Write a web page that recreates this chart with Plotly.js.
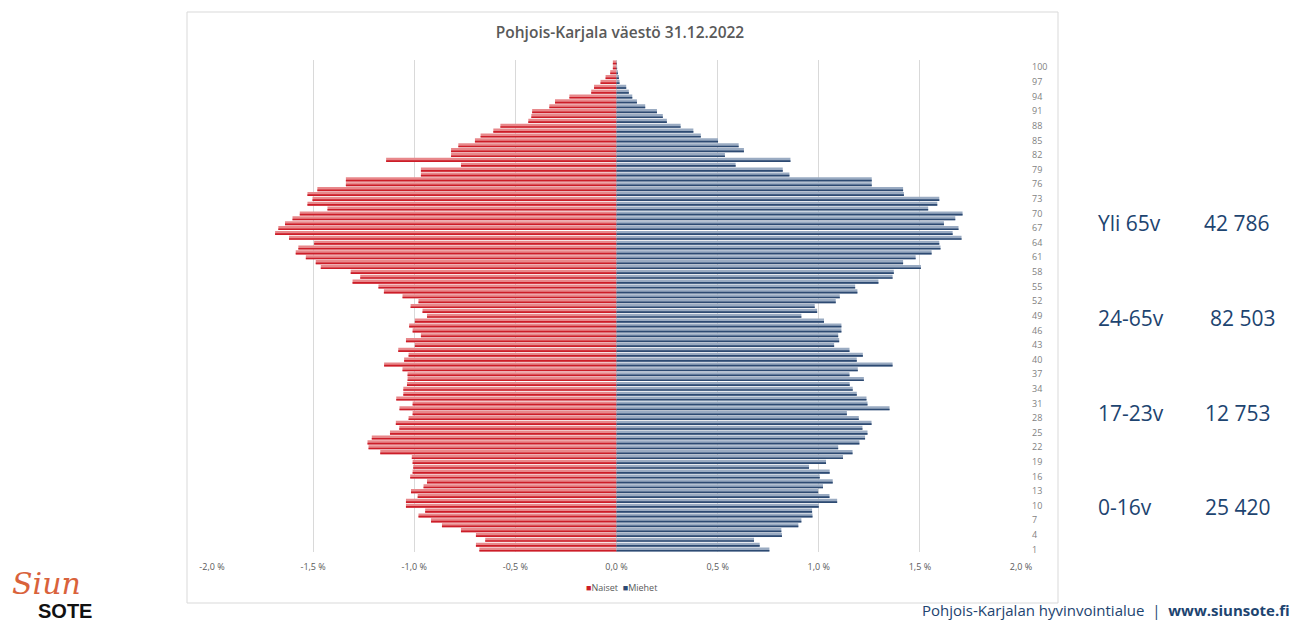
<!DOCTYPE html>
<html>
<head>
<meta charset="utf-8">
<script src="https://cdn.plot.ly/plotly-3.0.1.min.js"></script>
<style>html,body{margin:0;padding:0;background:#fff;}#chart{width:1306px;height:622px;}</style>
</head>
<body>
<div id="chart"></div>
<script>
// Ages (categories 1..101)
const ages = Array.from({length: 101}, (_, i) => i + 1);

// Naiset (women), share of population in percent, ages 1..101
const naiset = [
  0.678, 0.695, 0.649, 0.695, 0.769, 0.863, 0.917, 0.979, 0.946, 1.041,
  1.041, 0.983, 1.016, 0.954, 0.937, 1.020, 1.008, 1.005, 1.008, 1.012,
  1.168, 1.226, 1.231, 1.210, 1.120, 1.074, 1.091, 1.028, 1.008, 1.073,
  1.008, 1.089, 1.054, 1.054, 1.036, 1.033, 1.033, 1.058, 1.149, 1.050,
  1.028, 1.079, 0.997, 1.041, 0.967, 1.008, 1.025, 0.997, 0.937, 0.959,
  1.018, 0.979, 1.058, 1.150, 1.177, 1.305, 1.267, 1.314, 1.462, 1.487,
  1.536, 1.586, 1.573, 1.495, 1.619, 1.688, 1.672, 1.639, 1.602, 1.566,
  1.429, 1.528, 1.503, 1.528, 1.479, 1.338, 1.338, 0.967, 0.967, 0.769,
  1.139, 0.818, 0.818, 0.782, 0.700, 0.672, 0.609, 0.574, 0.436, 0.421,
  0.417, 0.332, 0.304, 0.233, 0.125, 0.111, 0.079, 0.054, 0.031, 0.018,
  0.018
];

// Miehet (men), share of population in percent, ages 1..101
const miehet = [
  0.756, 0.708, 0.680, 0.818, 0.815, 0.899, 0.914, 0.969, 0.967, 1.000,
  1.091, 1.053, 0.997, 1.021, 1.069, 1.005, 1.054, 0.952, 1.036, 1.120,
  1.167, 1.096, 1.201, 1.229, 1.241, 1.216, 1.261, 1.198, 1.139, 1.350,
  1.241, 1.236, 1.188, 1.168, 1.153, 1.223, 1.152, 1.193, 1.365, 1.188,
  1.218, 1.152, 1.076, 1.101, 1.096, 1.112, 1.112, 1.026, 0.914, 0.992,
  0.980, 1.084, 1.104, 1.191, 1.180, 1.295, 1.365, 1.371, 1.505, 1.417,
  1.479, 1.558, 1.602, 1.596, 1.706, 1.662, 1.691, 1.619, 1.675, 1.711,
  1.541, 1.586, 1.596, 1.421, 1.417, 1.262, 1.262, 0.855, 0.822, 0.589,
  0.860, 0.536, 0.630, 0.604, 0.502, 0.417, 0.380, 0.317, 0.249, 0.229,
  0.200, 0.142, 0.101, 0.078, 0.061, 0.048, 0.015, 0.012, 0.007, 0.003,
  0.002
];

// Axis ticks
const xTickVals = [-2, -1.5, -1, -0.5, 0, 0.5, 1, 1.5, 2];
const xTickText = ["-2,0 %", "-1,5 %", "-1,0 %", "-0,5 %", "0,0 %", "0,5 %", "1,0 %", "1,5 %", "2,0 %"];
const yTickVals = Array.from({length: 34}, (_, i) => 1 + 3 * i);

// Series names
const seriesNames = ["Naiset", "Miehet"];

// Side summary
const groupLabels = ["Yli 65v", "24-65v", "17-23v", "0-16v"];
const groupCounts = ["42 786", "82 503", "12 753", "25 420"];

const naisetNeg = naiset.map(v => -v);

const RED_L = "#e8888b", RED_D = "#cc1d28";
const BLU_L = "#9aabc2", BLU_D = "#2d4a72";

const traces = [
  {type: "bar", orientation: "h", y: ages, x: naisetNeg, width: 0.84, offset: -0.42,
   marker: {color: RED_L}, showlegend: false, hoverinfo: "skip"},
  {type: "bar", orientation: "h", y: ages, x: miehet, width: 0.84, offset: -0.42,
   marker: {color: BLU_L}, showlegend: false, hoverinfo: "skip"},
  {type: "bar", orientation: "h", y: ages, x: naisetNeg, width: 0.34, offset: -0.42,
   marker: {color: RED_D}, name: seriesNames[0], showlegend: false},
  {type: "bar", orientation: "h", y: ages, x: miehet, width: 0.34, offset: -0.42,
   marker: {color: BLU_D}, name: seriesNames[1], showlegend: false}
];

// plot area in pixels: x 212..1021, y 60..552
const PX0 = 212, PX1 = 1021, PY0 = 60, PY1 = 552;
const px = x => (x - PX0) / (PX1 - PX0);
const py = y => (PY1 - y) / (PY1 - PY0);

const textColor = "#1d4470";
const annotations = [];
const rowY = [223, 318, 413, 507];
const numX = [1202, 1208, 1203, 1203];
groupLabels.forEach((g, i) => {
  annotations.push({xref: "paper", yref: "paper", x: px(1096), y: py(rowY[i]), xanchor: "left", yanchor: "middle",
    text: g, showarrow: false, font: {family: "Open Sans", size: 21, color: textColor}});
  annotations.push({xref: "paper", yref: "paper", x: px(numX[i]), y: py(rowY[i]), xanchor: "left", yanchor: "middle",
    text: groupCounts[i], showarrow: false, font: {family: "Open Sans", size: 21, color: textColor}});
});
// legend (compact, as in the reference)
annotations.push({xref: "paper", yref: "paper", x: px(621), y: py(587), xanchor: "center", yanchor: "middle",
  text: '<span style="color:' + RED_D + '">■</span>' + seriesNames[0] + '  <span style="color:' + BLU_D + '">■</span>' + seriesNames[1],
  showarrow: false, font: {family: "Open Sans", size: 9, color: "#595959"}});
annotations.push({xref: "paper", yref: "paper", x: px(1292), y: py(610), xanchor: "right", yanchor: "middle",
  text: "Pohjois-Karjalan hyvinvointialue  |  <b>www.siunsote.fi</b>", showarrow: false,
  font: {family: "Open Sans", size: 15, color: textColor}});
annotations.push({xref: "paper", yref: "paper", x: px(10), y: py(583), xanchor: "left", yanchor: "middle",
  text: "<i>Siun</i>", showarrow: false, font: {family: "DejaVu Serif", size: 30, color: "#d9623b"}});
annotations.push({xref: "paper", yref: "paper", x: px(36), y: py(611), xanchor: "left", yanchor: "middle",
  text: "<b>SOTE</b>", showarrow: false, font: {family: "Liberation Sans", size: 20, color: "#111111"}});

const layout = {
  width: 1306, height: 622,
  margin: {l: PX0, r: 1306 - PX1, t: PY0, b: 622 - PY1, pad: 0},
  paper_bgcolor: "#ffffff", plot_bgcolor: "#ffffff",
  barmode: "overlay",
  font: {family: "Open Sans", color: "#595959"},
  title: {text: "Pohjois-Karjala väestö 31.12.2022", x: 620 / 1306, xanchor: "center", y: 1 - 33 / 622, yanchor: "middle",
    font: {family: "Open Sans", size: 15.5, color: "#595959", weight: 600}},
  xaxis: {range: [-2, 2], tickvals: xTickVals, ticktext: xTickText, showgrid: true, gridcolor: "#d9d9d9", gridwidth: 1,
    zeroline: false, showline: false, ticks: "", ticklabelstandoff: 8, tickfont: {size: 9, color: "#595959"}, fixedrange: true},
  yaxis: {range: [0.5, 101.5], side: "right", tickvals: yTickVals, ticktext: yTickVals.map(String), showgrid: false,
    zeroline: false, showline: false, ticks: "", ticklabelstandoff: 10, tickfont: {size: 9, color: "#7f7f7f"}, fixedrange: true},
  showlegend: false,
  shapes: [
    {type: "rect", xref: "paper", yref: "paper", x0: px(187), x1: px(1058), y0: py(603), y1: py(12),
     line: {color: "#d9d9d9", width: 1}, fillcolor: "rgba(0,0,0,0)", layer: "below"}
  ],
  annotations: annotations
};

Plotly.newPlot("chart", traces, layout, {staticPlot: true, displayModeBar: false});
</script>
</body>
</html>
